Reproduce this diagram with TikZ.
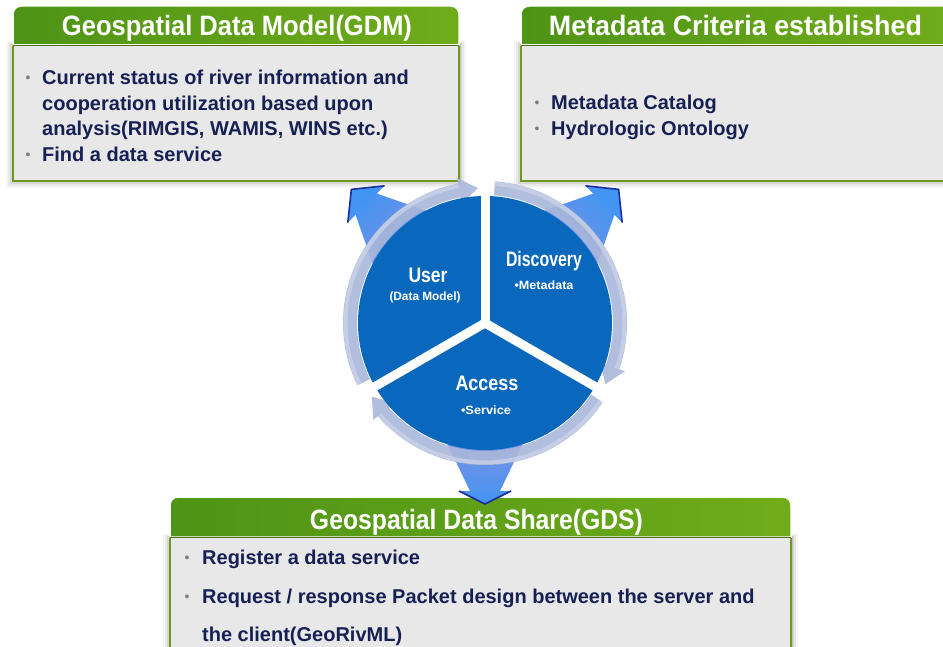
\documentclass[tikz,border=0pt]{standalone}
\usepackage{fontspec}
\setmainfont{Liberation Sans}
\usepackage{graphicx}
\usetikzlibrary{calc}

\definecolor{discblue}{RGB}{10,104,188}
\definecolor{ringgray}{RGB}{170,183,218}
\definecolor{ringlight}{RGB}{206,214,234}
\definecolor{hdrdark}{RGB}{78,148,22}
\definecolor{hdrlight}{RGB}{150,200,46}
\definecolor{hdrmid}{RGB}{112,172,26}
\definecolor{bodygray}{RGB}{232,232,232}
\definecolor{boxedge}{RGB}{112,152,32}
\definecolor{navy}{RGB}{22,32,84}
\definecolor{dotgray}{RGB}{125,125,125}
\definecolor{arrowbase}{RGB}{130,146,226}
\definecolor{arrowmid}{RGB}{48,88,214}
\definecolor{arrowtip}{RGB}{66,148,242}
\definecolor{arrowedge}{RGB}{26,46,160}

% squeeze a text horizontally to a given width, keeping its height
\newcommand\fitto[2]{\resizebox{#1}{\height}{#2}}

\tikzset{
  hdrtext/.style={text=white, font=\fontsize{28}{30}\selectfont\bfseries, inner sep=0pt, anchor=base},
  itemtext/.style={text=navy, font=\fontsize{20}{24}\selectfont\bfseries, inner sep=0pt, anchor=base west},
  dottext/.style={text=dotgray, font=\fontsize{14}{16}\selectfont, inner sep=0pt, anchor=base},
  segtitle/.style={text=white, font=\fontsize{21}{23}\selectfont\bfseries, inner sep=0pt, anchor=base},
  segsub/.style={text=white, font=\fontsize{12}{14}\selectfont\bfseries, inner sep=0pt, anchor=base},
  hdrfill/.style={left color=hdrdark, middle color=hdrlight, right color=hdrmid, draw=white, line width=1.5pt},
  bodyfill/.style={fill=bodygray, draw=boxedge, line width=2pt},
}

% panel: #1 left, #2 header top, #3 right, #4 header bottom, #5 body bottom
\newcommand\panel[5]{%
  \foreach \k/\o in {7/0.04,5/0.05,3/0.07,1.5/0.09}
    \fill[black, opacity=\o] (#1-\k, #4-\k/2) rectangle (#3+\k, #5+\k);
  \path[bodyfill] (#1, #4) rectangle (#3, #5);
  \path[hdrfill] (#1, #4) -- (#1, #2+8) arc[start angle=180, end angle=270, radius=8]
    -- (#3-8, #2) arc[start angle=270, end angle=360, radius=8] -- (#3, #4) -- cycle;
  \draw[boxedge!70!black, line width=1pt] (#1, #4+0.8) -- (#3, #4+0.8);
}

\begin{document}
\begin{tikzpicture}[x=1pt, y=-1pt]
\useasboundingbox[fill=white] (0,0) rectangle (943,647);

% ---- the three panels
\panel{13}{6}{459}{45}{181}
\panel{521}{6}{952}{45}{181}
\panel{170}{497}{791}{537}{660}

\node[hdrtext] (gdmtitle) at (237,36) {\fitto{350pt}{Geospatial Data Model(GDM)}};
\node[hdrtext] (mctitle) at (735.5,36) {\fitto{373pt}{Metadata Criteria established}};
\node[hdrtext] (gdstitle) at (476.5,529) {\fitto{333pt}{Geospatial Data Share(GDS)}};

% GDM items
\node[dottext] (gdmdot1) at (28,83) {•};
\node[itemtext] (gdm1) at (42,85) {Current status of river information and};
\node[itemtext] (gdm2) at (42,110.5) {cooperation utilization based upon};
\node[itemtext] (gdm3) at (42,136) {analysis(RIMGIS, WAMIS, WINS etc.)};
\node[dottext] (gdmdot2) at (28,159.5) {•};
\node[itemtext] (gdm4) at (42,161.5) {Find a data service};

% metadata items
\node[dottext] (mcdot1) at (537,108) {•};
\node[itemtext] (mc1) at (551,110) {Metadata Catalog};
\node[dottext] (mcdot2) at (537,133.5) {•};
\node[itemtext] (mc2) at (551,135.5) {Hydrologic Ontology};

% GDS items
\node[dottext] (gdsdot1) at (187,562) {•};
\node[itemtext] (gds1) at (202,564) {Register a data service};
\node[dottext] (gdsdot2) at (187,601) {•};
\node[itemtext] (gds2) at (202,603) {Request / response Packet design between the server and};
\node[itemtext] (gds3) at (202,641) {the client(GeoRivML)};

% ---- cycle in the middle
\coordinate (C) at (485,323);

% outgoing block arrows
\foreach \a/\t/\s in {225/189/45, 315/189/-45, 90/181/180} {
  \shade[top color=arrowtip, middle color=arrowmid, bottom color=arrowbase, shading angle=\s]
    ($(C)+(\a:112)+(\a+90:42)$) -- ($(C)+(\a:168)+(\a+90:15)$) -- ($(C)+(\a:168)+(\a+90:26)$)
    -- ($(C)+(\a:\t)$)
    -- ($(C)+(\a:168)+(\a-90:26)$) -- ($(C)+(\a:168)+(\a-90:15)$) -- ($(C)+(\a:112)+(\a-90:42)$) -- cycle;
  \draw[arrowedge, line width=1.6pt, line join=round]
    ($(C)+(\a:168)+(\a+90:26)$) -- ($(C)+(\a:\t)$) -- ($(C)+(\a:168)+(\a-90:26)$);
}

% ring of three curved arrows, running clockwise
\foreach \s/\e in {154/267, 274/387, 34/147} {
  \fill[ringgray, opacity=0.9]
    ([shift={(C)}]\s:142) arc[start angle=\s, end angle=\e-8, radius=142]
    -- ([shift={(C)}]\e-8:148) -- ([shift={(C)}]\e:135) -- ([shift={(C)}]\e-8:122)
    -- ([shift={(C)}]\e-8:128) arc[start angle=\e-8, end angle=\s, radius=128] -- cycle;
  \draw[ringlight, line width=4pt, opacity=0.7]
    ([shift={(C)}]\s:139.5) arc[start angle=\s, end angle=\e-8, radius=139.5];
}

% blue disc split into three sectors
\fill[discblue] (C) circle[radius=127];
\foreach \g in {270,30,150}
  \draw[white, line width=9pt] (C) -- ([shift={(C)}]\g:128);

\node[segtitle] (user) at (428,283) {\fitto{39pt}{User}};
\node[segsub] (usersub) at (425,301) {\fitto{71pt}{(Data Model)}};
\node[segtitle] (disc) at (544,267) {\fitto{76pt}{Discovery}};
\node[segsub] (discsub) at (544,290) {\fitto{59pt}{•Metadata}};
\node[segtitle] (access) at (487,390) {\fitto{63pt}{Access}};
\node[segsub] (accsub) at (486,414) {\fitto{50pt}{•Service}};
\end{tikzpicture}
\end{document}
